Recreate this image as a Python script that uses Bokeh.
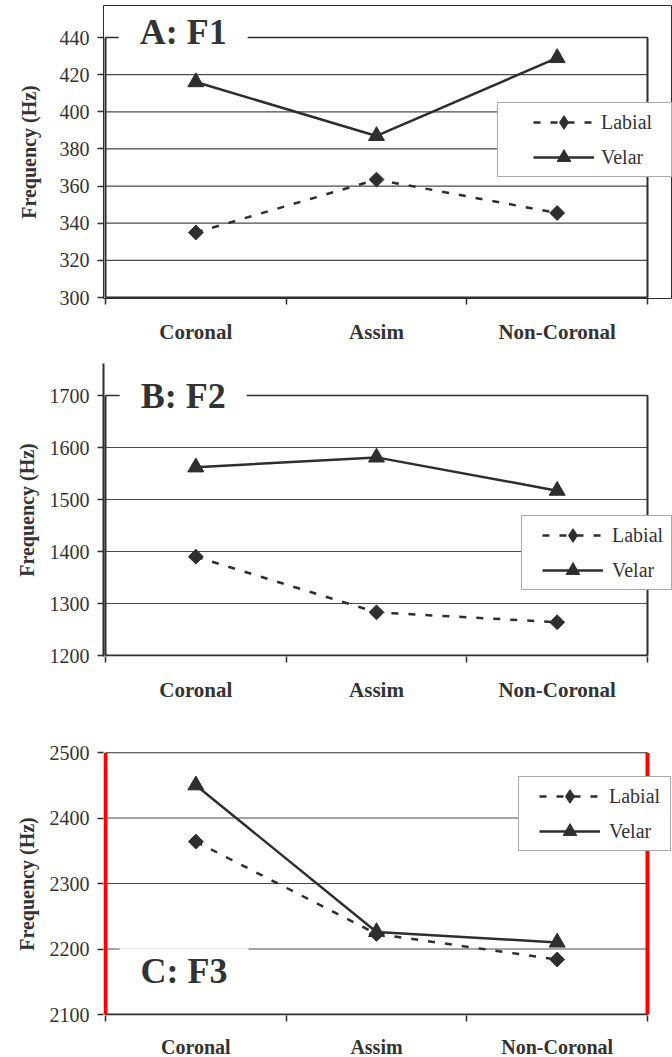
from bokeh.plotting import figure
from bokeh.models import (Range1d, FixedTicker, Legend, LegendItem, Label,
                          ColumnDataSource)
from bokeh.layouts import column
from bokeh.embed import file_html
from bokeh.resources import INLINE
import numpy as np

categories = ["Coronal", "Assim", "Non-Coronal"]
f1_labial = [335, 363.5, 345.5]
f1_velar = [416, 387, 429]
f2_labial = [1390, 1283, 1264]
f2_velar = [1562, 1581, 1517]
f3_labial = [2364, 2223, 2184]
f3_velar = [2450, 2226, 2210]

FONT = "'Liberation Serif'"
INK = "#2e2e2e"
TXT = "#333333"

BOX_W = 542
EXTRA_R = 25
EXTRA_L = 2


def make_panel(title, lab, vel, y0, y1, step, box_h, extra_top, mt, mb, title_y, title_x,
               leg_x, leg_y, leg_standoff, leg_lstandoff, leg_lw, ylab_standoff, xlab_standoff,
               xlab_size, mode):
    n = len(categories)
    x = [i + 0.5 for i in range(n)]
    ppu = BOX_W / n
    x_start = -EXTRA_L / ppu
    x_end = n + EXTRA_R / ppu
    y_end = y1 + (y1 - y0) * extra_top / box_h
    y_start = y0 - (y1 - y0) * 1.0 / box_h
    p = figure(frame_width=BOX_W + EXTRA_R + EXTRA_L, frame_height=box_h + extra_top + 1,
               min_border_left=105 - EXTRA_L, min_border_right=0,
               min_border_top=mt, min_border_bottom=mb - 1,
               x_range=Range1d(x_start, x_end), y_range=Range1d(y_start, y_end),
               output_backend="svg", toolbar_location=None,
               background_fill_color="white", border_fill_color="white")
    p.outline_line_color = INK if mode == "outline" else None

    yticks = list(np.arange(y0, y1 + step / 2, step))
    p.xgrid.visible = False
    p.ygrid.visible = False
    p.segment(x0=[0] * len(yticks), x1=[n] * len(yticks), y0=yticks, y1=yticks,
              line_color="#4a4a4a", line_width=1.2, level="underlay")

    p.segment(x0=[0, 0], x1=[n, n], y0=[y0, y1], y1=[y0, y1],
              line_color=INK, line_width=[2.0, 1.6])
    if mode == "red":
        p.quad(left=[-2 / ppu, n - 2 / ppu], right=[2 / ppu, n + 2 / ppu],
               bottom=[y0, y0], top=[y1, y1], fill_color="red", line_color=None)
    else:
        p.segment(x0=[0, n], x1=[0, n], y0=[y0, y0], y1=[y1, y1],
                  line_color=INK, line_width=2.0)

    xt = FixedTicker(ticks=x, minor_ticks=list(range(n + 1)))
    p.xaxis.ticker = xt
    p.xaxis.major_label_overrides = {xi: c for xi, c in zip(x, categories)}
    p.xaxis.major_tick_out = 0
    p.xaxis.major_tick_in = 0
    p.xaxis.minor_tick_out = 6
    p.xaxis.minor_tick_in = 0
    p.xaxis.minor_tick_line_color = INK
    p.xaxis.minor_tick_line_width = 1.5
    p.xaxis.axis_line_color = None
    p.xaxis.major_label_text_font = FONT
    p.xaxis.major_label_text_font_style = "bold"
    p.xaxis.major_label_text_font_size = xlab_size
    p.xaxis.major_label_text_color = TXT
    p.xaxis.major_label_standoff = xlab_standoff

    p.yaxis.ticker = FixedTicker(ticks=yticks)
    p.yaxis.major_tick_out = 6
    p.yaxis.major_tick_in = 0
    p.yaxis.minor_tick_out = 0
    p.yaxis.minor_tick_in = 0
    p.yaxis.major_tick_line_color = INK
    p.yaxis.major_tick_line_width = 1.3
    p.yaxis.axis_line_color = INK if mode == "axis" else None
    p.yaxis.axis_line_width = 2
    p.yaxis.major_label_text_font = FONT
    p.yaxis.major_label_text_font_size = "20px"
    p.yaxis.major_label_text_color = TXT
    p.yaxis.major_label_standoff = 8
    p.yaxis.axis_label = "Frequency (Hz)"
    p.yaxis.axis_label_text_font = FONT
    p.yaxis.axis_label_text_font_style = "bold"
    p.yaxis.axis_label_text_font_size = "20px"
    p.yaxis.axis_label_text_color = TXT
    p.yaxis.axis_label_standoff = ylab_standoff

    src_l = ColumnDataSource(dict(x=x, y=lab))
    src_v = ColumnDataSource(dict(x=x, y=vel))
    p.line("x", "y", source=src_l, line_color=INK, line_width=2.5, line_dash="7 10")
    p.line("x", "y", source=src_v, line_color=INK, line_width=2.5)
    p.scatter("x", "y", source=src_l, marker="square", angle=np.pi / 4, size=10.5,
              fill_color=INK, line_color=INK)
    p.scatter("x", "y", source=src_v, marker="triangle", size=16,
              fill_color=INK, line_color=INK)

    proxy = ColumnDataSource(dict(x=[np.nan], y=[np.nan]))
    ll = p.line("x", "y", source=proxy, line_color=INK, line_width=2.5, line_dash="7 10")
    lm = p.scatter("x", "y", source=proxy, marker="diamond", fill_color=INK, line_color=INK)
    vl = p.line("x", "y", source=proxy, line_color=INK, line_width=2.5)
    vm = p.scatter("x", "y", source=proxy, marker="triangle", fill_color=INK, line_color=INK)
    leg = Legend(items=[LegendItem(label="Labial", renderers=[ll, lm], index=0),
                        LegendItem(label="Velar", renderers=[vl, vm], index=0)],
                 location=(leg_x + EXTRA_L, leg_y + 1), orientation="vertical",
                 padding=2, spacing=1, margin=0,
                 glyph_width=61, glyph_height=34, label_height=34,
                 label_width=leg_lw, label_standoff=leg_lstandoff,
                 label_text_font=FONT, label_text_font_size="20px",
                 label_text_color=TXT, label_text_baseline="middle",
                 border_line_color="#555555", border_line_width=1.3,
                 background_fill_color="white", background_fill_alpha=1.0,
                 title=" ", title_location="left", title_text_font_size="2px",
                 title_standoff=leg_standoff)
    p.add_layout(leg, "center")

    lbl = Label(x=title_x, y=title_y, text=title, text_font=FONT, text_font_style="bold",
                text_font_size="36px", text_color=TXT, text_align="center",
                text_baseline="middle", background_fill_color="white",
                background_fill_alpha=1.0, padding=(21, 3))
    p.add_layout(lbl)
    return p


pa = make_panel("A: F1", f1_labial, f1_velar, 300, 440, 20, 260, 32, 5, 61,
                442.7, 0.43, 392, 120, 31, 7, 68, 17, 15, "21px", "outline")
pb = make_panel("B: F2", f2_labial, f2_velar, 1200, 1700, 100, 260, 32, 5, 61,
                1700, 0.43, 416, 65, 16, 9, 57, 9, 15, "21px", "axis")
pc = make_panel("C: F3", f3_labial, f3_velar, 2100, 2500, 100, 262, 0, 36, 41,
                2166, 0.435, 413, 163, 16, 9, 59, 9, 14, "20px", "red")

layout = column(pa, pb, pc, spacing=0)
open("out.html", "w").write(file_html(layout, INLINE))
